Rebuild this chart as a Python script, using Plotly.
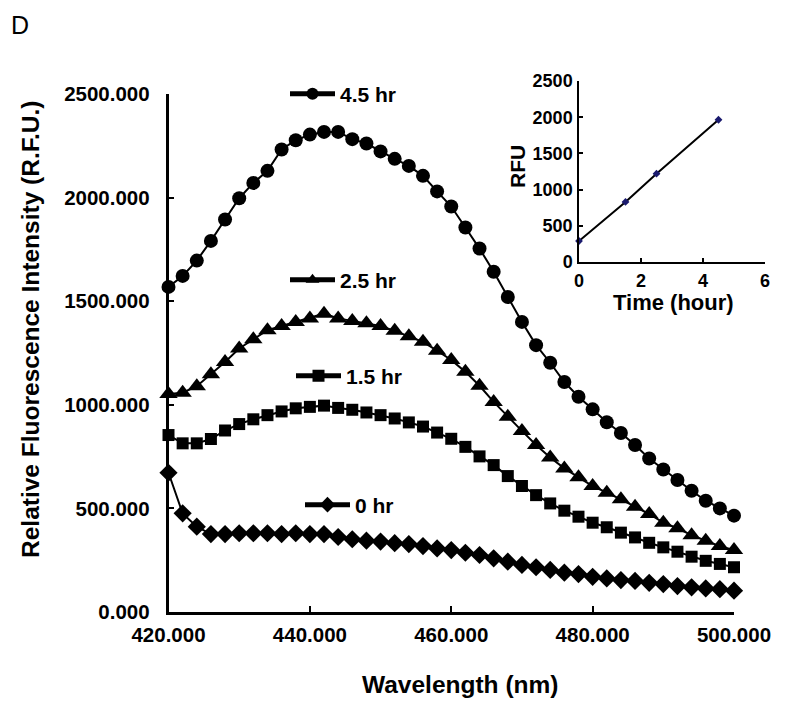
import plotly.graph_objects as go

# ---------------- data ----------------
wavelength = [420 + 2 * i for i in range(41)]

hr_4_5 = [1569, 1622, 1696, 1791, 1894, 1997, 2071, 2129, 2232, 2277, 2304, 2317, 2317,
          2282, 2261, 2223, 2187, 2153, 2105, 2030, 1957, 1856, 1754, 1642, 1520, 1400,
          1288, 1203, 1110, 1039, 978, 916, 864, 806, 741, 688, 637, 585, 537, 500, 465]
hr_2_5 = [1052, 1058, 1090, 1148, 1207, 1272, 1316, 1360, 1380, 1400, 1417, 1440, 1417,
          1405, 1393, 1380, 1357, 1331, 1304, 1261, 1216, 1159, 1092, 1014, 942, 874,
          806, 746, 693, 650, 608, 576, 544, 508, 473, 431, 404, 371, 344, 318, 299]
hr_1_5 = [854, 814, 814, 835, 876, 907, 930, 950, 968, 983, 990, 996, 985, 976, 963, 950,
          934, 915, 895, 866, 836, 797, 751, 709, 656, 608, 564, 524, 489, 460, 431, 409,
          383, 360, 334, 312, 291, 267, 247, 232, 216]
hr_0 = [672, 476, 412, 376, 376, 380, 380, 380, 376, 380, 376, 376, 362, 351, 344, 340,
        332, 328, 318, 307, 299, 286, 275, 259, 243, 227, 216, 203, 190, 183, 170, 162,
        154, 150, 141, 135, 125, 119, 114, 110, 103]

series_names = ["4.5 hr", "2.5 hr", "1.5 hr", "0 hr"]
series_symbols = ["circle", "triangle-up", "square", "diamond"]

inset_time = [0, 1.5, 2.5, 4.5]
inset_rfu = [290, 830, 1220, 1965]

main_x_ticks = [420, 440, 460, 480, 500]
main_y_ticks = [0, 500, 1000, 1500, 2000, 2500]
inset_x_ticks = [0, 2, 4, 6]
inset_y_ticks = [0, 500, 1000, 1500, 2000, 2500]

# ---------------- figure ----------------
# the page body has an 8px default margin, so the figure is sized to fit the window
OFF = 8
W, H = 788 - OFF, 707 - OFF
FONT = "Liberation Sans, Arial, sans-serif"

def px(x):
    return (x - OFF) / W

def py(y):
    return 1 - (y - OFF) / H

fig = go.Figure()

all_series = [hr_4_5, hr_2_5, hr_1_5, hr_0]
legend_ids = ["legend", "legend2", "legend3", "legend4"]
marker_sizes = [14, 16, 12, 14]
for name, ys, sym, lg, ms in zip(series_names, all_series, series_symbols, legend_ids, marker_sizes):
    fig.add_trace(go.Scatter(
        x=wavelength, y=ys, name=name, mode="lines+markers",
        line=dict(color="black", width=2),
        marker=dict(symbol=sym, size=ms, color="black"),
        cliponaxis=False, legend=lg, showlegend=True,
    ))

fig.add_trace(go.Scatter(
    x=inset_time, y=inset_rfu, mode="lines+markers", showlegend=False,
    line=dict(color="black", width=2),
    marker=dict(symbol="diamond", size=6, color="#1a1a6e"),
    xaxis="x2", yaxis="y2", cliponaxis=False,
))

tickfont = dict(family=FONT, size=20.5, color="black", weight="bold")
inset_tickfont = dict(family=FONT, size=18, color="black", weight="bold")

fig.update_layout(
    width=W, height=H,
    margin=dict(l=0, r=0, t=0, b=0, autoexpand=False),
    paper_bgcolor="white", plot_bgcolor="rgba(0,0,0,0)",
    xaxis=dict(
        domain=[px(168.5), px(734)], range=[420, 500],
        tickvals=main_x_ticks, tickformat=".3f", automargin=False,
        showline=True, linecolor="black", linewidth=2.5,
        ticks="inside", ticklen=6, tickwidth=2, tickcolor="black",
        showgrid=False, zeroline=False, tickfont=tickfont,
        ticklabelstandoff=3,
    ),
    yaxis=dict(
        domain=[py(612), py(94)], range=[0, 2500],
        tickvals=main_y_ticks, tickformat=".3f", automargin=False,
        showline=True, linecolor="black", linewidth=2.5,
        ticks="inside", ticklen=6, tickwidth=2, tickcolor="black",
        showgrid=False, zeroline=False, tickfont=tickfont,
        ticklabelstandoff=12,
    ),
    xaxis2=dict(
        domain=[px(579), px(765)], range=[0, 6], anchor="y2", automargin=False,
        tickvals=inset_x_ticks,
        showline=True, linecolor="black", linewidth=1.5,
        ticks="inside", ticklen=4, tickwidth=1.5, tickcolor="black",
        showgrid=False, zeroline=False, tickfont=inset_tickfont,
        ticklabelstandoff=2,
    ),
    yaxis2=dict(
        domain=[py(262), py(81)], range=[0, 2500], anchor="x2", automargin=False,
        tickvals=inset_y_ticks,
        showline=True, linecolor="black", linewidth=1.5,
        ticks="inside", ticklen=4, tickwidth=1.5, tickcolor="black",
        showgrid=False, zeroline=False, tickfont=inset_tickfont,
        ticklabelstandoff=1,
    ),
)

legend_pos = [(287, 94), (287, 280), (293, 376), (302, 505)]
for lg, (lx, ly) in zip(legend_ids, legend_pos):
    fig.update_layout({lg: dict(
        x=px(lx - 2), y=py(ly), xanchor="left", yanchor="middle",
        bgcolor="rgba(0,0,0,0)", borderwidth=0,
        font=dict(family=FONT, size=21, color="black", weight="bold"),
        itemsizing="constant", itemwidth=45,
    )})

annotations = [
    dict(text="D", x=px(9), y=py(25), xanchor="left", yanchor="middle",
         font=dict(family=FONT, size=25, color="black")),
    dict(text="Wavelength (nm)", x=px(460), y=py(684), xanchor="center", yanchor="middle",
         font=dict(family=FONT, size=24.5, color="black", weight="bold")),
    dict(text="Relative Fluorescence Intensity (R.F.U.)", x=px(30), y=py(330),
         xanchor="center", yanchor="middle", textangle=-90,
         font=dict(family=FONT, size=24.5, color="black", weight="bold")),
    dict(text="RFU", x=px(518), y=py(167), xanchor="center", yanchor="middle", textangle=-90,
         font=dict(family=FONT, size=21, color="black", weight="bold")),
    dict(text="Time (hour)", x=px(673), y=py(302), xanchor="center", yanchor="middle",
         font=dict(family=FONT, size=22, color="black", weight="bold")),
]
for a in annotations:
    a.update(xref="paper", yref="paper", showarrow=False)
fig.update_layout(annotations=annotations)

fig.write_html("out.html")
